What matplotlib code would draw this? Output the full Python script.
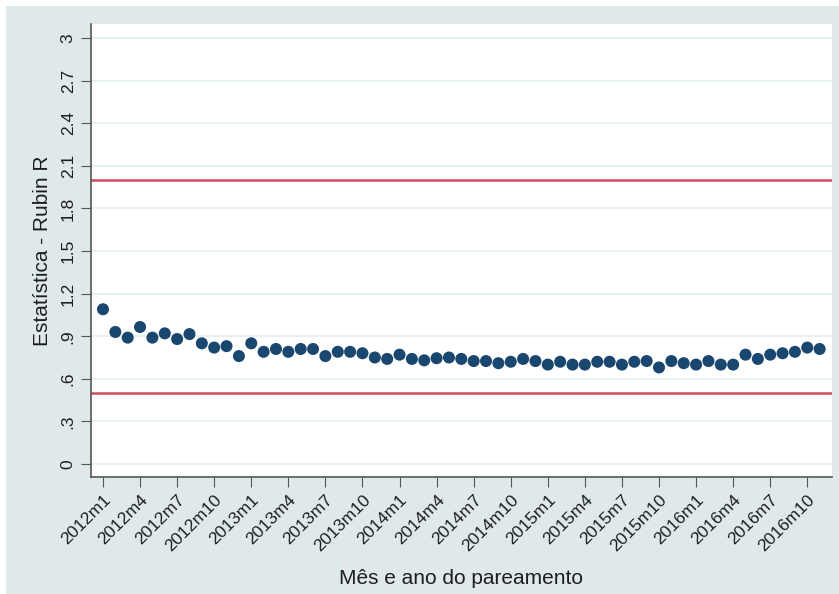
import matplotlib.pyplot as plt
import numpy as np
from matplotlib.patches import Rectangle

plt.rcParams['font.family'] = ['Liberation Sans', 'DejaVu Sans']

# valores (2012m1 .. 2016m11)
rubin_r = [1.09, 0.93, 0.89, 0.965, 0.89, 0.92, 0.88, 0.915, 0.85, 0.82,
           0.83, 0.76, 0.85, 0.79, 0.81, 0.79, 0.81, 0.81, 0.76, 0.79,
           0.79, 0.78, 0.75, 0.74, 0.77, 0.74, 0.73, 0.745, 0.75, 0.74,
           0.725, 0.725, 0.71, 0.72, 0.74, 0.725, 0.70, 0.72, 0.70, 0.70,
           0.72, 0.72, 0.70, 0.72, 0.725, 0.68, 0.725, 0.71, 0.70, 0.725,
           0.70, 0.70, 0.77, 0.74, 0.77, 0.78, 0.79, 0.82, 0.81]
ref_lines = [0.5, 2.0]
y_ticks = [0, .3, .6, .9, 1.2, 1.5, 1.8, 2.1, 2.4, 2.7, 3]
y_labels = ['0', '.3', '.6', '.9', '1.2', '1.5', '1.8', '2.1', '2.4', '2.7', '3']

start_year = 2012
months = []
for i in range(len(rubin_r)):
    months.append('%dm%d' % (start_year + i // 12, i % 12 + 1))
x = np.arange(len(rubin_r))
tick_pos = x[::3]
tick_lab = [months[i] for i in tick_pos]

bg = '#dfe9eb'
grid_c = '#e8f1f2'
txt_c = '#1e1e1e'

fig = plt.figure(figsize=(8.39, 5.94), dpi=100)
fig.patch.set_facecolor('white')
fig.patches.append(Rectangle((6/839, 0), 1, 1 - 6/594, transform=fig.transFigure,
                             facecolor=bg, edgecolor='none', zorder=-10))

ax = fig.add_axes([91/839, 1 - 477/594, (832-91)/839, (477-24)/594])
ax.set_facecolor('white')

for y in y_ticks:
    ax.axhline(y, color=grid_c, lw=1.5, zorder=0)
for y in ref_lines:
    ax.axhline(y, color='#cf4f5f', lw=1.8, zorder=2)

ax.scatter(x, rubin_r, s=75, color='#1a476f', edgecolors='none', zorder=3)

ax.set_xlim(-0.97, 59.0)
ax.set_ylim(-0.092, 3.10)
ax.set_yticks(y_ticks)
ax.set_yticklabels(y_labels, rotation=90, va='center', fontsize=12.5)
ax.set_xticks(tick_pos)
ax.set_xticklabels(tick_lab, rotation=45, ha='right', rotation_mode='anchor', fontsize=12.5)

for s in ['top', 'right']:
    ax.spines[s].set_visible(False)
for s in ['left', 'bottom']:
    ax.spines[s].set_color('#555555')
    ax.spines[s].set_linewidth(1.2)
ax.tick_params(direction='out', length=7, color='#555555', labelcolor=txt_c, pad=4)

ax.set_ylabel('Estatística - Rubin R', fontsize=15, color=txt_c, labelpad=6)
fig.text(0.549, 1 - 578/594, 'Mês e ano do pareamento', ha='center', va='center',
         fontsize=15, color=txt_c)

plt.savefig('out.png', dpi=100, facecolor=fig.get_facecolor())
